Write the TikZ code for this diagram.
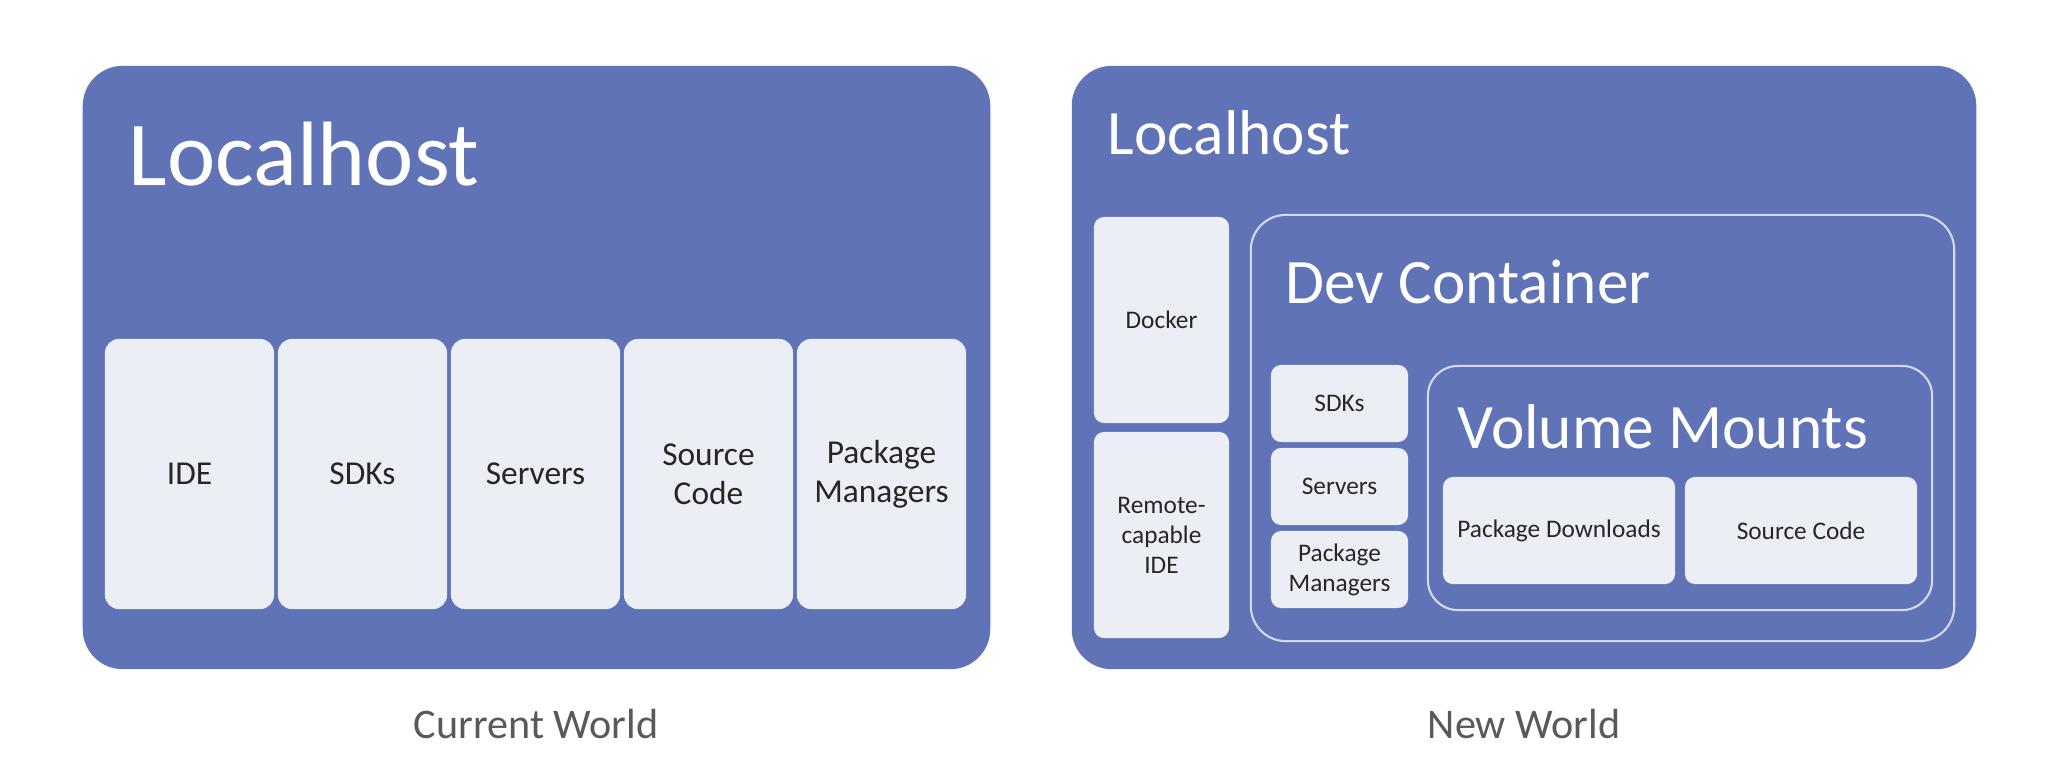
\documentclass[tikz,border=0pt]{standalone}
\usepackage{fontspec}
\setmainfont{Carlito}
\definecolor{hostblue}{HTML}{5F73B6}
\definecolor{boxlight}{HTML}{ECEEF6}
\definecolor{outlinec}{HTML}{D3DAF2}
\definecolor{capgray}{HTML}{595959}
\tikzset{
  hostbox/.style={rectangle, fill=hostblue, draw=none, rounded corners=0.4cm, inner sep=0pt},
  itembig/.style={rectangle, fill=boxlight, draw=none, rounded corners=0.14cm, inner sep=0pt, align=center,
     font=\fontsize{9.5}{11}\selectfont, text=black!85},
  itemsmall/.style={rectangle, fill=boxlight, draw=none, rounded corners=0.1cm, inner sep=0pt, align=center,
     font=\fontsize{7.2}{8.5}\selectfont, text=black!85},
  ringbox/.style={rectangle, draw=outlinec, line width=0.6pt, fill=none, rounded corners=0.35cm, inner sep=0pt},
  bigtitle/.style={anchor=base west, inner sep=0pt, text=white, font=\fontsize{26}{31}\selectfont},
  midtitle/.style={anchor=base west, inner sep=0pt, text=white, font=\fontsize{18}{22}\selectfont},
  caption/.style={inner sep=0pt, text=capgray, font=\fontsize{12}{14}\selectfont},
}
\begin{document}
\begin{tikzpicture}[x=0.01cm, y=-0.01cm]
\useasboundingbox[fill=white] (0,0) rectangle (2067,769);

% ---------- Current World ----------
\node[hostbox, minimum width=9.07cm, minimum height=6.03cm] (lhA) at (536.5,367.5) {};
\node[bigtitle] (lhAt) at (128,185) {Localhost};
\node[itembig, minimum width=1.69cm, minimum height=2.70cm] (ide) at (189.5,474) {IDE};
\node[itembig, minimum width=1.69cm, minimum height=2.70cm] (sdkA) at (362.5,474) {SDKs};
\node[itembig, minimum width=1.69cm, minimum height=2.70cm] (srvA) at (535.5,474) {Servers};
\node[itembig, minimum width=1.69cm, minimum height=2.70cm] (srcA) at (708.5,474) {Source\\Code};
\node[itembig, minimum width=1.69cm, minimum height=2.70cm] (pkgA) at (881.5,474) {Package\\Managers};
\node[caption] (capA) at (536,724) {Current World};

% ---------- New World ----------
\node[hostbox, minimum width=9.04cm, minimum height=6.03cm] (lhB) at (1524,367.5) {};
\node[midtitle] (lhBt) at (1107,154) {Localhost};
\node[itemsmall, minimum width=1.35cm, minimum height=2.06cm] (docker) at (1161.5,320) {Docker};
\node[itemsmall, minimum width=1.35cm, minimum height=2.06cm] (ride) at (1161.5,535) {Remote-\\capable\\IDE};

\node[ringbox, minimum width=7.03cm, minimum height=4.26cm] (dev) at (1602.5,428) {};
\node[midtitle] (devt) at (1285,303) {Dev Container};
\node[itemsmall, minimum width=1.37cm, minimum height=0.77cm] (sdkB) at (1339.5,403.5) {SDKs};
\node[itemsmall, minimum width=1.37cm, minimum height=0.77cm] (srvB) at (1339.5,486.5) {Servers};
\node[itemsmall, minimum width=1.37cm, minimum height=0.77cm] (pkgB) at (1339.5,569.5) {Package\\Managers};

\node[ringbox, rounded corners=0.3cm, minimum width=5.04cm, minimum height=2.44cm] (vol) at (1680,488) {};
\node[midtitle] (volt) at (1457,448) {Volume Mounts};
\node[itemsmall, minimum width=2.32cm, minimum height=1.07cm] (pdl) at (1559,530.5) {Package Downloads};
\node[itemsmall, minimum width=2.32cm, minimum height=1.07cm] (srcB) at (1801,530.5) {Source Code};
\node[caption] (capB) at (1524,724) {New World};
\end{tikzpicture}
\end{document}
